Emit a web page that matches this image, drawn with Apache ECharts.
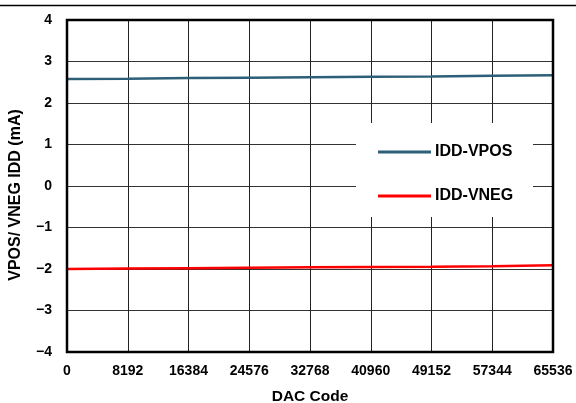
<!DOCTYPE html>
<html><head><meta charset="utf-8">
<script src="https://cdn.jsdelivr.net/npm/echarts@6/dist/echarts.min.js"></script>
<style>html,body{margin:0;padding:0;background:#fff}#c{width:576px;height:403px}</style>
</head><body><div id="c"></div>
<script>
const xCodes = [0, 8192, 16384, 24576, 32768, 40960, 49152, 57344, 65536];
const iddVpos = [2.58, 2.585, 2.60, 2.61, 2.62, 2.63, 2.64, 2.655, 2.67];
const iddVneg = [-2.00, -1.99, -1.98, -1.97, -1.96, -1.95, -1.945, -1.935, -1.91];
const seriesNames = ['IDD-VPOS', 'IDD-VNEG'];
const yTitle = 'VPOS/ VNEG IDD (mA)';
const xTitle = 'DAC Code';
const F = 'Liberation Sans, Arial, sans-serif';
const chart = echarts.init(document.getElementById('c'));
chart.setOption({
  animation: false,
  backgroundColor: '#fff',
  grid: { left: 67, right: 23, top: 20, bottom: 51, containLabel: false, outerBoundsMode: 'none' },
  xAxis: {
    type: 'value', min: 0, max: 65536, interval: 8192,
    name: xTitle, nameLocation: 'middle', nameGap: 37,
    nameTextStyle: { fontFamily: F, fontWeight: 'bold', fontSize: 15.5, color: '#000' },
    axisLine: { show: false },
    axisTick: { show: false },
    axisLabel: { fontFamily: F, fontWeight: 'bold', fontSize: 14, color: '#000', margin: 12,
      formatter: v => String(v) },
    splitLine: { show: true, lineStyle: { color: '#222', width: 1 } }
  },
  yAxis: {
    type: 'value', min: -4, max: 4, interval: 1,
    axisLine: { show: false },
    axisTick: { show: false },
    axisLabel: { fontFamily: F, fontWeight: 'bold', fontSize: 14, color: '#000', margin: 15,
      formatter: v => (v < 0 ? '\u2212' + Math.abs(v) : String(v)) },
    splitLine: { show: true, lineStyle: { color: '#333', width: 1 } }
  },
  legend: {
    left: 378, top: 144, orient: 'vertical', itemGap: 28,
    padding: 0,
    itemWidth: 53, itemHeight: 3, icon: 'rect',
    textStyle: { fontFamily: F, fontWeight: 'bold', fontSize: 16, color: '#000', lineHeight: 16, padding: [0, 0, 0, -1] },
    data: seriesNames
  },
  graphic: [
    { type: 'rect', shape: { x: 356, y: 123, width: 177, height: 94 }, style: { fill: '#fff' }, z: 3 },
    { type: 'text', x: 16, y: 195, rotation: Math.PI / 2,
      style: { text: yTitle, font: 'bold 16px ' + F, fill: '#000', align: 'center', verticalAlign: 'middle' }, z: 10 },
    { type: 'line', shape: { x1: 0, y1: 5.5, x2: 576, y2: 5.5 }, style: { stroke: '#000', lineWidth: 1.5 }, z: 10 },
    { type: 'rect', shape: { x: 67, y: 20, width: 486, height: 332 }, style: { fill: 'none', stroke: '#000', lineWidth: 2.5 }, z: 10 }
  ],
  series: [
    { name: seriesNames[0], type: 'line', symbol: 'none', data: xCodes.map((x, i) => [x, iddVpos[i]]),
      lineStyle: { color: '#2e5f78', width: 2.5 }, itemStyle: { color: '#2e5f78' } },
    { name: seriesNames[1], type: 'line', symbol: 'none', data: xCodes.map((x, i) => [x, iddVneg[i]]),
      lineStyle: { color: '#ff0000', width: 2.5 }, itemStyle: { color: '#ff0000' } }
  ]
});
</script></body></html>
